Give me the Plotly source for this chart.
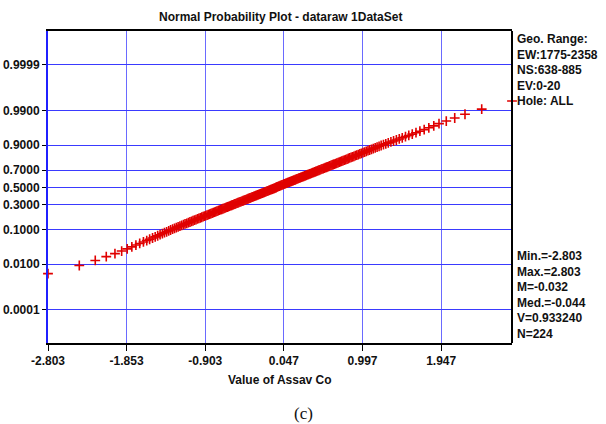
import plotly.graph_objects as go
from statistics import NormalDist

# Sorted assay values
assay_values = [
    -2.803, -2.425, -2.232, -2.099, -1.994, -1.913, -1.846, -1.790, -1.741, -1.695,
    -1.650, -1.610, -1.575, -1.540, -1.508, -1.478, -1.449, -1.421, -1.396, -1.370,
    -1.345, -1.322, -1.298, -1.275, -1.253, -1.231, -1.209, -1.188, -1.166, -1.147,
    -1.126, -1.107, -1.088, -1.069, -1.051, -1.033, -1.015, -0.997, -0.980, -0.963,
    -0.946, -0.929, -0.913, -0.897, -0.881, -0.865, -0.850, -0.835, -0.820, -0.805,
    -0.790, -0.775, -0.761, -0.746, -0.732, -0.718, -0.704, -0.690, -0.676, -0.663,
    -0.650, -0.636, -0.623, -0.610, -0.596, -0.583, -0.570, -0.558, -0.545, -0.533,
    -0.520, -0.508, -0.496, -0.483, -0.471, -0.458, -0.446, -0.434, -0.422, -0.410,
    -0.398, -0.386, -0.375, -0.363, -0.351, -0.339, -0.328, -0.316, -0.305, -0.293,
    -0.282, -0.271, -0.259, -0.248, -0.236, -0.225, -0.213, -0.202, -0.191, -0.180,
    -0.169, -0.157, -0.146, -0.134, -0.124, -0.112, -0.101, -0.090, -0.079, -0.068,
    -0.057, -0.046, -0.042, -0.031, -0.020, -0.009, 0.002, 0.013, 0.024, 0.036,
    0.046, 0.058, 0.069, 0.081, 0.092, 0.103, 0.114, 0.125, 0.137, 0.148,
    0.160, 0.171, 0.183, 0.194, 0.205, 0.217, 0.228, 0.240, 0.251, 0.263,
    0.275, 0.287, 0.298, 0.310, 0.322, 0.334, 0.346, 0.358, 0.370, 0.383,
    0.395, 0.408, 0.420, 0.432, 0.445, 0.457, 0.470, 0.482, 0.495, 0.508,
    0.522, 0.535, 0.548, 0.562, 0.575, 0.588, 0.602, 0.616, 0.630, 0.644,
    0.658, 0.673, 0.687, 0.702, 0.717, 0.732, 0.747, 0.762, 0.778, 0.794,
    0.810, 0.826, 0.842, 0.859, 0.876, 0.893, 0.910, 0.928, 0.946, 0.965,
    0.983, 1.003, 1.022, 1.042, 1.063, 1.083, 1.105, 1.127, 1.150, 1.173,
    1.197, 1.222, 1.250, 1.278, 1.308, 1.340, 1.372, 1.406, 1.441, 1.477,
    1.516, 1.556, 1.598, 1.643, 1.690, 1.742, 1.798, 1.858, 1.921, 2.009,
    2.111, 2.235, 2.437, 2.803,
]

x_tick_values = [-2.803, -1.853, -0.903, 0.047, 0.997, 1.947]
x_tick_labels = ["-2.803", "-1.853", "-0.903", "0.047", "0.997", "1.947"]
prob_ticks = [0.0001, 0.01, 0.1, 0.3, 0.5, 0.7, 0.9, 0.99, 0.9999]
prob_labels = ["0.0001", "0.0100", "0.1000", "0.3000", "0.5000", "0.7000", "0.9000", "0.9900", "0.9999"]

geo_text = ["Geo. Range:", "EW:1775-2358", "NS:638-885", "EV:0-20", "Hole: ALL"]
stats_text = ["Min.=-2.803", "Max.=2.803", "M=-0.032", "Med.=-0.044", "V=0.933240", "N=224"]

nd = NormalDist()
n = len(assay_values)
# probability-scale positions (plotting position i/(n+1)) mapped through normal quantile
y_pos = [nd.inv_cdf((i + 1) / (n + 1)) for i in range(n)]
y_tick_pos = [nd.inv_cdf(p) for p in prob_ticks]

FONT = "Liberation Sans, Arial, sans-serif"
TXT = "#111111"

fig = go.Figure()
fig.add_trace(go.Scatter(
    x=assay_values, y=y_pos, mode="markers",
    marker=dict(symbol="cross-thin", size=7, line=dict(color="#e00000", width=1.6), color="#e00000"),
    cliponaxis=False, showlegend=False, hoverinfo="skip",
))

fig.update_layout(
    width=606, height=424,
    margin=dict(l=48, r=94, t=31, b=81, autoexpand=False),
    paper_bgcolor="white", plot_bgcolor="white",
    font=dict(family=FONT, size=12, color=TXT),
    xaxis=dict(
        range=[-2.803, 2.803], tickmode="array", tickvals=x_tick_values, ticktext=x_tick_labels,
        showgrid=True, gridcolor="#6a6aff", gridwidth=1, zeroline=False, automargin=False,
        showline=True, linecolor="black", linewidth=2, mirror=True,
        ticks="outside", ticklen=6, tickcolor="black", tickwidth=1,
        tickfont=dict(family=FONT, size=12, color=TXT, weight="bold"),
    ),
    yaxis=dict(
        range=[-4.72, 4.74], tickmode="array", tickvals=y_tick_pos, ticktext=prob_labels,
        showgrid=True, gridcolor="#3a3aff", gridwidth=1, zeroline=False, automargin=False,
        showline=True, linecolor="#2020ff", linewidth=2, mirror=False,
        ticks="outside", ticklen=4, tickcolor="black", tickwidth=1,
        tickfont=dict(family=FONT, size=12, color=TXT, weight="bold"),
    ),
    shapes=[
        dict(type="line", xref="paper", yref="paper", x0=1, x1=1, y0=0, y1=1,
             line=dict(color="black", width=2)),
    ],
)

ann = []
ann.append(dict(text="Normal Probability Plot - dataraw 1DataSet", xref="paper", yref="paper",
                x=0.5, y=1, yshift=14, xanchor="center", yanchor="middle", showarrow=False,
                font=dict(family=FONT, size=12, color=TXT, weight="bold")))
ann.append(dict(text="Value of Assav Co", xref="paper", yref="paper",
                x=0.5, y=0, yshift=-37, xanchor="center", yanchor="middle", showarrow=False,
                font=dict(family=FONT, size=12, color=TXT, weight="bold")))
ann.append(dict(text="(c)", xref="paper", yref="paper",
                x=(303 - 48) / 464, y=0, yshift=-70, xanchor="center", yanchor="middle", showarrow=False,
                font=dict(family="Liberation Serif, Times New Roman, serif", size=17, color=TXT)))
ann.append(dict(text="<br>".join(geo_text), xref="paper", yref="paper", align="left",
                x=1, xshift=3, y=(343 - 70) / 312, xanchor="left", yanchor="middle", showarrow=False,
                font=dict(family=FONT, size=12, color=TXT, weight="bold")))
ann.append(dict(text="<br>".join(stats_text), xref="paper", yref="paper", align="left",
                x=1, xshift=3, y=(343 - 295) / 312, xanchor="left", yanchor="middle", showarrow=False,
                font=dict(family=FONT, size=12, color=TXT, weight="bold")))
fig.update_layout(annotations=ann)

fig.write_html("out.html")
